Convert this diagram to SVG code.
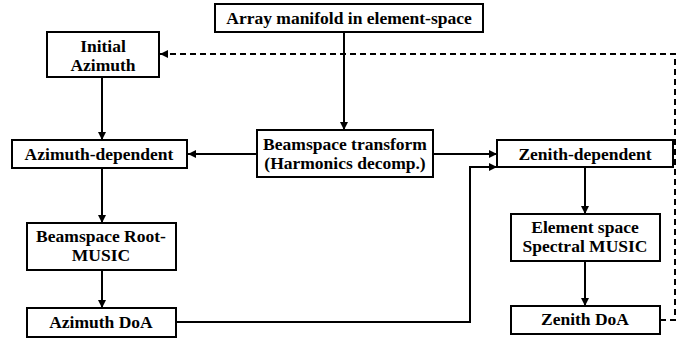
<svg xmlns="http://www.w3.org/2000/svg" width="692" height="340" viewBox="0 0 692 340">
  <style>
    .box { fill: #fff; stroke: #000; stroke-width: 2; }
    .lbl { font-family: "Liberation Serif", "Times New Roman", serif; font-weight: bold; font-size: 17.5px; fill: #000; text-anchor: middle; }
    .wire { fill: none; stroke: #000; stroke-width: 2; }
    .dash { stroke-dasharray: 6 4; }
  </style>
  <defs>
    <marker id="arrow" viewBox="0 0 10 10" refX="10" refY="5" markerWidth="4" markerHeight="4" orient="auto" markerUnits="strokeWidth">
      <path d="M0,0 L10,5 L0,10 z" fill="#000"/>
    </marker>
  </defs>

  <g id="connectors">
    <path class="wire" d="M344,32 V130" marker-end="url(#arrow)"/>
    <path class="wire" d="M102,77 V140" marker-end="url(#arrow)"/>
    <path class="wire" d="M257,154 H188" marker-end="url(#arrow)"/>
    <path class="wire" d="M433,154 H497" marker-end="url(#arrow)"/>
    <path class="wire" d="M102,168 V223" marker-end="url(#arrow)"/>
    <path class="wire" d="M102,270 V308" marker-end="url(#arrow)"/>
    <path class="wire" d="M176,322 H470 V167 H497" marker-end="url(#arrow)"/>
    <path class="wire" d="M585,167 V214" marker-end="url(#arrow)"/>
    <path class="wire" d="M585,261 V306" marker-end="url(#arrow)"/>
    <path class="wire dash" d="M660,320 H675 V54 H160" marker-end="url(#arrow)"/>
  </g>

  <g id="array-manifold">
    <rect class="box" x="215" y="4" width="268" height="28"/>
    <text class="lbl" x="349" y="24">Array manifold in element-space</text>
  </g>
  <g id="initial-azimuth">
    <rect class="box" x="47" y="32" width="112" height="45"/>
    <text class="lbl" x="103" y="52">Initial</text>
    <text class="lbl" x="103" y="71">Azimuth</text>
  </g>
  <g id="azimuth-dependent">
    <rect class="box" x="12" y="140" width="175" height="28"/>
    <text class="lbl" x="99" y="160">Azimuth-dependent</text>
  </g>
  <g id="beamspace-transform">
    <rect class="box" x="257" y="130" width="176" height="47"/>
    <text class="lbl" x="345" y="150">Beamspace transform</text>
    <text class="lbl" x="345" y="169">(Harmonics decomp.)</text>
  </g>
  <g id="zenith-dependent">
    <rect class="box" x="497" y="140" width="176" height="27"/>
    <text class="lbl" x="585" y="160">Zenith-dependent</text>
  </g>
  <g id="beamspace-root-music">
    <rect class="box" x="27" y="223" width="149" height="47"/>
    <text class="lbl" x="101" y="242">Beamspace Root-</text>
    <text class="lbl" x="101" y="261">MUSIC</text>
  </g>
  <g id="azimuth-doa">
    <rect class="box" x="27" y="308" width="149" height="29"/>
    <text class="lbl" x="101" y="328">Azimuth DoA</text>
  </g>
  <g id="element-space-music">
    <rect class="box" x="511" y="214" width="149" height="47"/>
    <text class="lbl" x="585" y="233">Element space</text>
    <text class="lbl" x="585" y="252">Spectral MUSIC</text>
  </g>
  <g id="zenith-doa">
    <rect class="box" x="511" y="306" width="149" height="28"/>
    <text class="lbl" x="585" y="325">Zenith DoA</text>
  </g>
</svg>
